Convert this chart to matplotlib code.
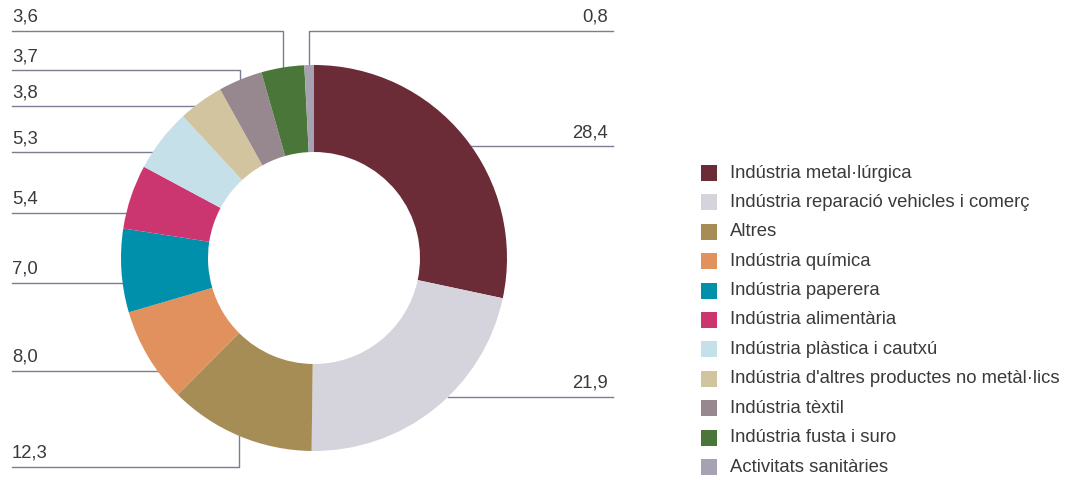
import numpy as np
import matplotlib.pyplot as plt

# data
sectors = [
    "Indústria metal·lúrgica",
    "Indústria reparació vehicles i comerç",
    "Altres",
    "Indústria química",
    "Indústria paperera",
    "Indústria alimentària",
    "Indústria plàstica i cautxú",
    "Indústria d'altres productes no metàl·lics",
    "Indústria tèxtil",
    "Indústria fusta i suro",
    "Activitats sanitàries",
]
shares = [28.4, 21.9, 12.3, 8.0, 7.0, 5.4, 5.3, 3.8, 3.7, 3.6, 0.8]
colors = ["#6b2c37", "#d5d3db", "#a68c55", "#e0915e", "#0090ab", "#cb3671",
          "#c5e0e8", "#d3c4a0", "#978890", "#4a7739", "#a6a2b1"]

# label layout: y of leader line (px from top), side, elbow?
label_y = [146, 397, 467, 371, 283, 213, 152, 106, 70, 31, 31]
label_side = ["R", "R", "L", "L", "L", "L", "L", "L", "L", "L", "R"]
label_elbow = [False, False, True, False, False, False, False, False, True, True, True]

W, H = 1072, 480
cx, cy, R, r = 314, 258, 193, 106
line_col = "#7b7d92"
txt_col = "#3a3a3a"
font = "Liberation Sans"
fs = 13.3

fig = plt.figure(figsize=(W / 100, H / 100), dpi=100)
ax = fig.add_axes([0, 0, 1, 1])

ax.pie(shares, colors=colors, startangle=90, counterclock=False,
       center=(cx, H - cy), radius=R, frame=True,
       wedgeprops=dict(width=R - r, linewidth=0))
ax.set_xlim(0, W)
ax.set_ylim(0, H)
ax.set_aspect("equal")
ax.axis("off")

total = sum(shares)
cum = np.cumsum([0] + shares[:-1])
for i, v in enumerate(shares):
    mid = (cum[i] + v / 2) / total * 2 * np.pi
    yl = H - label_y[i]
    txt = f"{v:.1f}".replace(".", ",")
    if label_elbow[i]:
        ex = cx + R * np.sin(mid)
        ey = H - cy + R * np.cos(mid)
        xs = [12, ex, ex] if label_side[i] == "L" else [613, ex, ex]
        ax.plot(xs, [yl, yl, ey], color=line_col, lw=1.0, zorder=0)
    else:
        dx = np.sqrt(max(R ** 2 - (label_y[i] - cy) ** 2, 0))
        if label_side[i] == "L":
            ax.plot([12, cx - dx], [yl, yl], color=line_col, lw=1.0, zorder=0)
        else:
            ax.plot([cx + dx, 613], [yl, yl], color=line_col, lw=1.0, zorder=0)
    if label_side[i] == "L":
        ax.text(12, yl + 5, txt, ha="left", va="bottom", fontsize=fs,
                color=txt_col, family=font)
    else:
        ax.text(608, yl + 5, txt, ha="right", va="bottom", fontsize=fs,
                color=txt_col, family=font)

# legend
for i, (name, c) in enumerate(zip(sectors, colors)):
    yy = H - (173 + i * 29.4)
    ax.add_patch(plt.Rectangle((701, yy - 8), 16, 16, color=c, lw=0))
    ax.text(730, yy, name, ha="left", va="center", fontsize=fs,
            color=txt_col, family=font)

fig.savefig("out.png", dpi=100)
